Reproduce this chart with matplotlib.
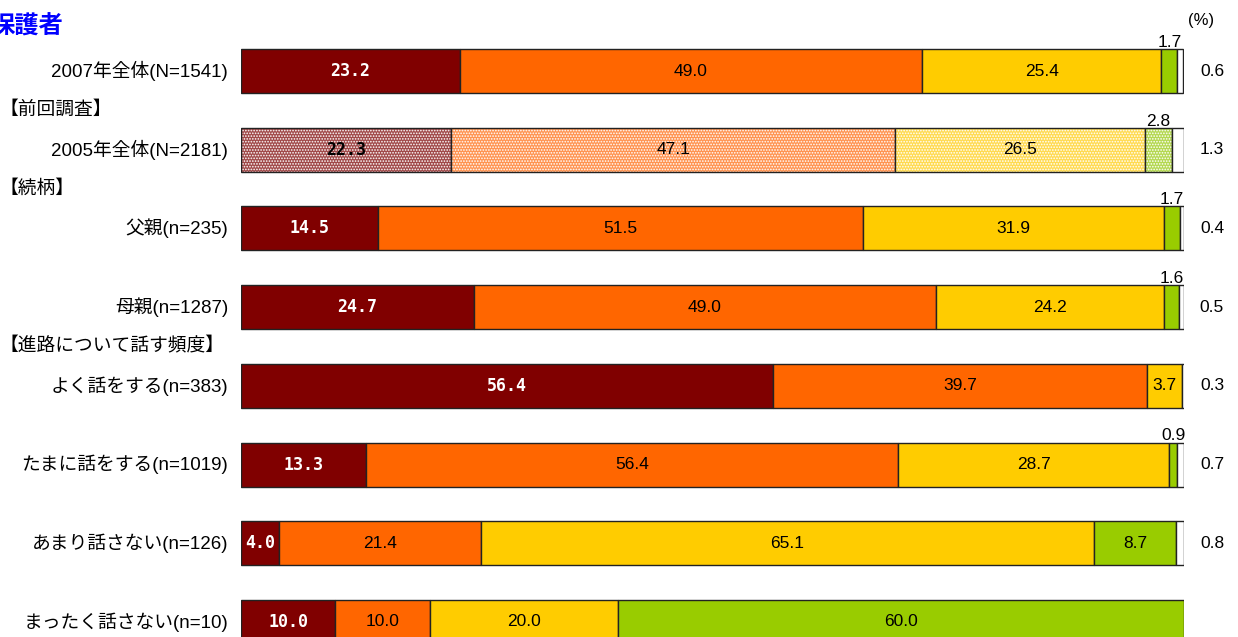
import matplotlib
matplotlib.use("Agg")
import matplotlib.pyplot as plt

plt.rcParams["font.family"] = ["Liberation Sans", "Noto Sans CJK JP", "DejaVu Sans"]
plt.rcParams["hatch.linewidth"] = 0.8

# Row labels (top to bottom)
categories = [
    "2007年全体(N=1541)",
    "2005年全体(N=2181)",
    "父親(n=235)",
    "母親(n=1287)",
    "よく話をする(n=383)",
    "たまに話をする(n=1019)",
    "あまり話さない(n=126)",
    "まったく話さない(n=10)",
]
# Section headers and the row they sit above
section_titles = ["【前回調査】", "【続柄】", "【進路について話す頻度】"]
section_rows = [1, 2, 4]

# Stacked shares (%) per row
seg1 = [23.2, 22.3, 14.5, 24.7, 56.4, 13.3, 4.0, 10.0]
seg2 = [49.0, 47.1, 51.5, 49.0, 39.7, 56.4, 21.4, 10.0]
seg3 = [25.4, 26.5, 31.9, 24.2, 3.7, 28.7, 65.1, 20.0]
seg4 = [1.7, 2.8, 1.7, 1.6, 0.0, 0.9, 8.7, 60.0]
seg5 = [0.6, 1.3, 0.4, 0.5, 0.3, 0.7, 0.8, 0.0]

series = [seg1, seg2, seg3, seg4, seg5]
colors = ["#800000", "#FF6600", "#FFCC00", "#99CC00", "#FFFFFF"]
dotted_colors = ["#A04848", "#FF9350", "#FFDA50", "#B4D850", "#FFFFFF"]
edge = "#222222"
previous_row = 1  # row drawn with a dotted fill

W, H = 1238, 637
fig = plt.figure(figsize=(W / 100, H / 100), dpi=100)
x0, x1 = 241, 1184
ax = fig.add_axes([x0 / W, 0, (x1 - x0) / W, 1])
step = (622 - 71) / 7
ax.set_xlim(0, 100)
ax.set_ylim(7 + (H - 622) / step, -71 / step)
ax.axis("off")

bar_h = 44 / step
px = 100 / (x1 - x0)  # data units per pixel along x

for i in range(len(categories)):
    left = 0.0
    for k, vals in enumerate(series):
        v = vals[i]
        if v <= 0:
            continue
        if i == previous_row:
            ax.barh(i, v, left=left, height=bar_h, color=dotted_colors[k],
                    edgecolor="none", linewidth=0)
            if k < 4:
                ax.barh(i, v, left=left, height=bar_h, color="none",
                        edgecolor="white", linewidth=0, hatch="......")
            ax.barh(i, v, left=left, height=bar_h, color="none",
                    edgecolor=edge, linewidth=1.0)
        else:
            ax.barh(i, v, left=left, height=bar_h, color=colors[k],
                    edgecolor=edge, linewidth=1.0)
        cx = left + v / 2
        if k == 0:
            tc = "black" if i == previous_row else "white"
            ax.text(cx, i, f"{v:.1f}", ha="center", va="center", color=tc,
                    fontsize=12, fontweight="bold", family="DejaVu Sans Mono")
        elif k in (1, 2):
            ax.text(cx, i, f"{v:.1f}", ha="center", va="center",
                    color="black", fontsize=12.5)
        elif k == 3:
            if v >= 5:
                ax.text(cx, i, f"{v:.1f}", ha="center", va="center",
                        color="black", fontsize=12.5)
            else:
                ax.text(cx, i - bar_h / 2 + 0.01, f"{v:.1f}", ha="center",
                        va="bottom", color="black", fontsize=12.5)
        elif k == 4:
            ax.text(100 + 28 * px, i, f"{v:.1f}", ha="center", va="center",
                    color="black", fontsize=12.5, clip_on=False)
        left += v

    ax.text(-13 * px, i, categories[i], ha="right", va="center",
            fontsize=13.5, color="black", clip_on=False)

for title, r in zip(section_titles, section_rows):
    ax.text(-241 * px, r - 0.5, title, ha="left", va="center",
            fontsize=13.5, color="black", clip_on=False)

fig.text(-9 / W, 1 - 27 / H, "保護者", ha="left", va="center",
         fontsize=17.5, fontweight="bold", color="#0000FF",
         family="Noto Sans CJK JP")
fig.text(1201 / W, 1 - 20 / H, "(%)", ha="center", va="center",
         fontsize=12, color="black")

fig.savefig("out.png", dpi=100)
